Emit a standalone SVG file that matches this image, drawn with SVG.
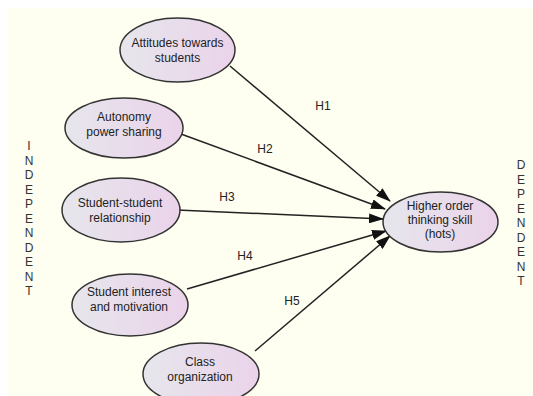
<svg xmlns="http://www.w3.org/2000/svg" width="533" height="396" viewBox="0 0 533 396">
<defs>
<linearGradient id="g" x1="0" y1="0" x2="1" y2="0">
<stop offset="0" stop-color="#E6E6EC"/>
<stop offset="1" stop-color="#EBD3EA"/>
</linearGradient>
<marker id="ah" markerWidth="15" markerHeight="10" refX="14" refY="5" orient="auto" markerUnits="userSpaceOnUse">
<path d="M0,0 L15,5 L0,10 Z" fill="#111"/>
</marker>
</defs>
<style>
.n ellipse{fill:url(#g);stroke:#333;stroke-width:1.5}
text{font-family:"Liberation Sans",Arial,sans-serif;font-size:12px;fill:#222;text-anchor:middle}
.v text{fill:#333}
.c line{stroke:#222;stroke-width:1.5;marker-end:url(#ah)}
</style>
<rect x="0" y="0" width="533" height="396" fill="#fff"/>
<rect x="8" y="8" width="525" height="388" fill="#FEFEF1"/>
<g class="c" id="connectors">
<line x1="230" y1="66" x2="390" y2="201"/>
<line x1="181" y1="134" x2="385" y2="209"/>
<line x1="177" y1="210" x2="383" y2="219"/>
<line x1="187" y1="289" x2="386" y2="231"/>
<line x1="255" y1="351" x2="390" y2="236"/>
<text x="323" y="110">H1</text>
<text x="265" y="153">H2</text>
<text x="227" y="201">H3</text>
<text x="245" y="260">H4</text>
<text x="292" y="305">H5</text>
</g>
<g class="n" id="attitudes">
<ellipse cx="177.5" cy="50" rx="57.5" ry="32"/>
<text x="177.5" y="47">Attitudes towards</text>
<text x="177.5" y="62">students</text>
</g>
<g class="n" id="autonomy">
<ellipse cx="124" cy="128" rx="59" ry="30"/>
<text x="124" y="121">Autonomy</text>
<text x="124" y="136">power sharing</text>
</g>
<g class="n" id="student-student">
<ellipse cx="121" cy="210" rx="59" ry="32"/>
<text x="120" y="207">Student-student</text>
<text x="120" y="222">relationship</text>
</g>
<g class="n" id="interest">
<ellipse cx="130" cy="305" rx="58" ry="31"/>
<text x="129" y="296">Student interest</text>
<text x="129" y="311">and motivation</text>
</g>
<g class="n" id="class">
<ellipse cx="201" cy="374" rx="58" ry="31"/>
<text x="200" y="366">Class</text>
<text x="200" y="381">organization</text>
</g>
<g class="n" id="hots">
<ellipse cx="440.5" cy="222" rx="57.5" ry="30"/>
<text x="440" y="210">Higher order</text>
<text x="440" y="224">thinking skill</text>
<text x="440" y="238">(hots)</text>
</g>
<g class="v" id="independent">
<text x="29" y="150">I</text>
<text x="29" y="164.5">N</text>
<text x="29" y="179">D</text>
<text x="29" y="193.5">E</text>
<text x="29" y="208">P</text>
<text x="29" y="222.5">E</text>
<text x="29" y="237">N</text>
<text x="29" y="251.5">D</text>
<text x="29" y="266">E</text>
<text x="29" y="280.5">N</text>
<text x="29" y="295">T</text>
</g>
<g class="v" id="dependent">
<text x="521" y="169">D</text>
<text x="521" y="183.5">E</text>
<text x="521" y="198">P</text>
<text x="521" y="212.5">E</text>
<text x="521" y="227">N</text>
<text x="521" y="241.5">D</text>
<text x="521" y="256">E</text>
<text x="521" y="270.5">N</text>
<text x="521" y="285">T</text>
</g>
</svg>
